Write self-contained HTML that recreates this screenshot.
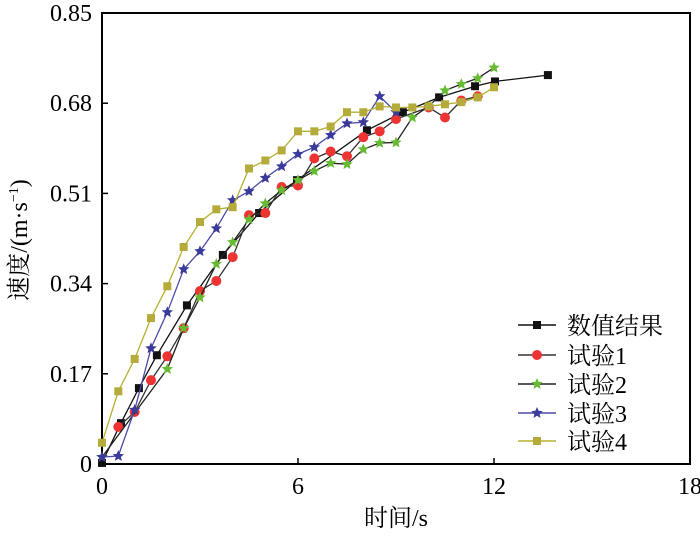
<!DOCTYPE html>
<html><head><meta charset="utf-8"><style>
html,body{margin:0;padding:0;background:#fff;}
svg text{font-family:"Liberation Serif","Noto Serif CJK SC",serif;}
</style></head><body>
<svg width="700" height="534" viewBox="0 0 700 534" xmlns="http://www.w3.org/2000/svg">
<g id="axes"></g><g id="series"></g><g id="legend"></g>
</svg>
<script>
const xTicks=[0,6,12,18];
const yTicks=[0,0.17,0.34,0.51,0.68,0.85];
const yTickLabels=["0","0.17","0.34","0.51","0.68","0.85"];
const seriesNames=["数值结果","试验1","试验2","试验3","试验4"];
const numX=[0,0.58,1.13,1.68,2.6,3.7,4.81,5.97,8.11,9.21,10.32,11.42,12.03,13.65];
const numY=[0.002,0.077,0.143,0.205,0.299,0.394,0.473,0.535,0.629,0.663,0.691,0.712,0.721,0.733];
const t1X=[0.5,1,1.5,2,2.5,3,3.5,4,4.5,5,5.5,6,6.5,7,7.5,8,8.5,9,10,10.5,11,11.5];
const t1Y=[0.07,0.098,0.158,0.203,0.256,0.326,0.345,0.39,0.469,0.473,0.522,0.525,0.576,0.589,0.58,0.616,0.627,0.65,0.672,0.653,0.685,0.693];
const t2X=[0,2,2.5,3,3.5,4,4.5,5,5.5,6,6.5,7,7.5,8,8.5,9,9.5,10,10.5,11,11.5,12];
const t2Y=[0.013,0.179,0.256,0.314,0.377,0.418,0.461,0.491,0.516,0.535,0.552,0.567,0.565,0.593,0.605,0.606,0.653,0.674,0.704,0.716,0.727,0.747];
const t3X=[0,0.5,1,1.5,2,2.5,3,3.5,4,4.5,5,5.5,6,6.5,7,7.5,8,8.5,9];
const t3Y=[0.013,0.015,0.102,0.218,0.286,0.367,0.401,0.444,0.497,0.514,0.539,0.561,0.584,0.597,0.62,0.642,0.644,0.693,0.663];
const t4X=[0,0.5,1,1.5,2,2.5,3,3.5,4,4.5,5,5.5,6,6.5,7,7.5,8,8.5,9,9.5,10,10.5,11,11.5,12];
const t4Y=[0.04,0.137,0.198,0.275,0.335,0.409,0.456,0.48,0.484,0.557,0.572,0.591,0.627,0.627,0.636,0.663,0.663,0.674,0.672,0.672,0.674,0.678,0.682,0.691,0.71];

const NS="http://www.w3.org/2000/svg";
const L=102,R=690,T=13,B=464;
function sx(v){return L+(v/18)*(R-L);}
function sy(v){return B-(v/0.85)*(B-T);}
function mk(tag,attrs,parent){const e=document.createElementNS(NS,tag);for(const k in attrs)e.setAttribute(k,attrs[k]);parent.appendChild(e);return e;}
const axes=document.getElementById('axes');
const frame=mk('rect',{x:L,y:T,width:R-L,height:B-T,fill:'none',stroke:'#000','stroke-width':2},axes);


xTicks.forEach(v=>{
  const t=mk('line',{x1:sx(v),x2:sx(v),y1:B,y2:B-6,stroke:'#000','stroke-width':1.5},axes);
  
  
  const tx=mk('text',{x:sx(v),y:B+30,'text-anchor':'middle','font-size':24},axes);
  tx.textContent=String(v);
  
  
});
yTicks.forEach((v,i)=>{
  const t=mk('line',{x1:L,x2:L+6,y1:sy(v),y2:sy(v),stroke:'#000','stroke-width':1.5},axes);
  
  
  const tx=mk('text',{x:L-10,y:sy(v)+8,'text-anchor':'end','font-size':24},axes);
  tx.textContent=yTickLabels[i];
  
  
});
const xl=mk('text',{x:396,y:526,'text-anchor':'middle','font-size':24},axes);
xl.textContent="时间/s";


const yl=mk('text',{x:0,y:0,'text-anchor':'middle','font-size':24,transform:'translate(27,240) rotate(-90)'},axes);
yl.innerHTML='速度/(m·s<tspan font-size="14" dy="-9">−1</tspan><tspan dy="9">)</tspan>';



const sg=document.getElementById('series');
const defs=[
 {xs:numX,ys:numY,line:'#111',fill:'#111',m:'sq'},
 {xs:t1X,ys:t1Y,line:'#333',fill:'#ee3333',m:'ci'},
 {xs:t2X,ys:t2Y,line:'#222',fill:'#66bb33',m:'st'},
 {xs:t3X,ys:t3Y,line:'#4a4aa8',fill:'#3a3a9a',m:'st'},
 {xs:t4X,ys:t4Y,line:'#b5b030',fill:'#b5ab3a',m:'sq'}
];
function star(cx,cy,r){let p=[];for(let i=0;i<10;i++){const a=-Math.PI/2+i*Math.PI/5;const rr=i%2?r*0.45:r;p.push((cx+rr*Math.cos(a)).toFixed(1)+','+(cy+rr*Math.sin(a)).toFixed(1));}return p.join(' ');}
function marker(d,x,y,parent){
  let e;
  if(d.m==='sq') e=mk('rect',{x:x-4,y:y-4,width:8,height:8,fill:d.fill},parent);
  else if(d.m==='ci') e=mk('circle',{cx:x,cy:y,r:5,fill:d.fill},parent);
  else e=mk('polygon',{points:star(x,y,6),fill:d.fill},parent);
  return e;
}
defs.forEach((d,si)=>{
  const g=mk('g',{},sg);
  
  
  const pts=d.xs.map((x,i)=>sx(x).toFixed(1)+','+sy(d.ys[i]).toFixed(1)).join(' ');
  const pl=mk('polyline',{points:pts,fill:'none',stroke:d.line,'stroke-width':1.3},g);
  
  
  d.xs.forEach((x,i)=>{
    const m=marker(d,sx(x),sy(d.ys[i]),g);
    
    
  });
});
const lg=document.getElementById('legend');
const legYs=[325,355,384,413,441];
seriesNames.forEach((n,i)=>{
  const d=defs[i];
  const g=mk('g',{},lg);
  
  
  mk('line',{x1:518,x2:556,y1:legYs[i],y2:legYs[i],stroke:d.line,'stroke-width':1.5},g);
  marker(d,537,legYs[i],g);
  const t=mk('text',{x:567,y:legYs[i]+9,'font-size':24},g);
  t.textContent=n;
});
</script>
</body></html>
